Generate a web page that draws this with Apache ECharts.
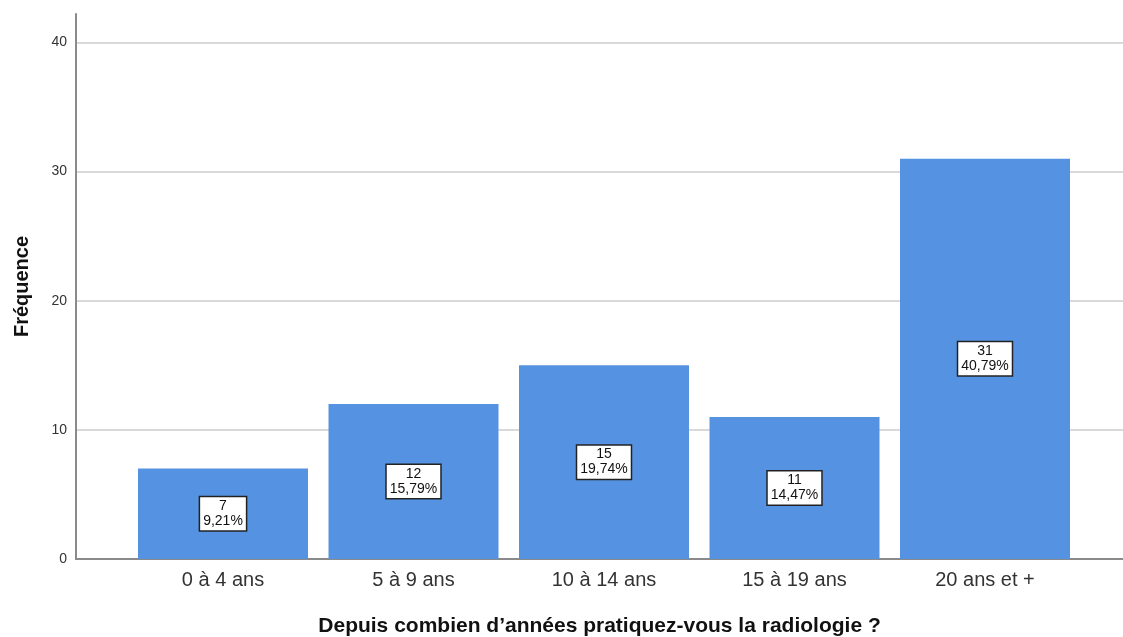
<!DOCTYPE html>
<html>
<head>
<meta charset="utf-8">
<script src="https://cdn.jsdelivr.net/npm/echarts@6/dist/echarts.min.js"></script>
<style>
  html, body { margin: 0; padding: 0; background: #fff; }
  #chart { width: 1123px; height: 637px; }
</style>
</head>
<body>
<div id="chart"></div>
<script>
// categories and values
const categories = ['0 à 4 ans', '5 à 9 ans', '10 à 14 ans', '15 à 19 ans', '20 ans et +'];
const counts = [7, 12, 15, 11, 31];
const percents = ['9,21%', '15,79%', '19,74%', '14,47%', '40,79%'];

const chart = echarts.init(document.getElementById('chart'));

const yMax = 42.2;

const option = {
  animation: false,
  grid: [
    // frame: y axis, gridlines, baseline
    { left: 76, right: 0, top: 14, bottom: 78, outerBoundsMode: 'none', containLabel: false },
    // bars
    { left: 127.75, right: 42.75, top: 14, bottom: 78, outerBoundsMode: 'none', containLabel: false }
  ],
  xAxis: [
    {
      gridIndex: 0,
      type: 'value',
      min: 0,
      max: 1,
      axisLine: { show: true, lineStyle: { color: '#8a8a8a', width: 2 } },
      axisTick: { show: false },
      axisLabel: { show: false },
      splitLine: { show: false },
      name: 'Depuis combien d\u2019années pratiquez-vous la radiologie ?',
      nameLocation: 'middle',
      nameGap: 57,
      nameTextStyle: { fontFamily: 'Arial, Liberation Sans', fontSize: 21, fontWeight: 'bold', color: '#111' }
    },
    {
      gridIndex: 1,
      type: 'category',
      data: categories,
      axisLine: { show: false },
      axisTick: { show: false },
      axisLabel: { fontFamily: 'Arial, Liberation Sans', fontSize: 20, color: '#333', margin: 11 }
    }
  ],
  yAxis: [
    {
      gridIndex: 0,
      type: 'value',
      min: 0,
      max: yMax,
      interval: 10,
      axisLine: { show: true, lineStyle: { color: '#8a8a8a', width: 2 } },
      axisTick: { show: false },
      axisLabel: { showMaxLabel: false, fontFamily: 'Arial, Liberation Sans', fontSize: 14, color: '#333', margin: 9 },
      splitLine: { show: true, showMinLine: false, showMaxLine: false, lineStyle: { color: '#cccccc', width: 1.5 } },
      name: 'Fréquence',
      nameLocation: 'middle',
      nameGap: 44,
      nameTextStyle: { fontFamily: 'Arial, Liberation Sans', fontSize: 20, fontWeight: 'bold', color: '#111' }
    },
    {
      gridIndex: 1,
      type: 'value',
      min: 0,
      max: yMax,
      show: false
    }
  ],
  series: [{
    type: 'bar',
    xAxisIndex: 1,
    yAxisIndex: 1,
    data: counts,
    barWidth: 170,
    itemStyle: { color: '#5593e2' },
    label: {
      show: true,
      position: 'inside',
      formatter: function (p) { return p.value + '\n' + percents[p.dataIndex]; },
      fontFamily: 'Arial, Liberation Sans',
      fontSize: 14,
      lineHeight: 15,
      color: '#111',
      backgroundColor: '#fff',
      borderColor: '#222',
      borderWidth: 1.5,
      padding: [2, 3, 1, 3]
    }
  }]
};

chart.setOption(option);
</script>
</body>
</html>
